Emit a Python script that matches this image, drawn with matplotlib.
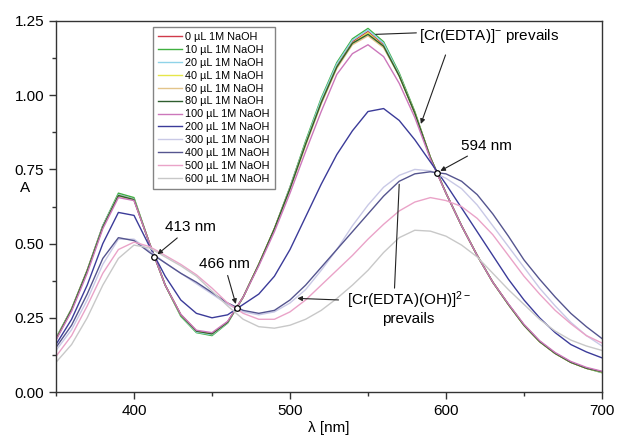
import matplotlib.pyplot as plt
import numpy as np
from matplotlib.ticker import MultipleLocator

plt.rcParams["font.family"] = ["Liberation Sans", "DejaVu Sans"]
plt.rcParams["mathtext.fontset"] = "custom"
plt.rcParams["mathtext.rm"] = "Liberation Sans"
plt.rcParams["mathtext.it"] = "Liberation Sans:italic"

# absorbance spectra, one reading every 10 nm
wavelength = np.arange(350, 701, 10)

a0 = [0.18, 0.28, 0.41, 0.56, 0.665, 0.65, 0.50, 0.36, 0.26, 0.205, 0.195, 0.235,
      0.32, 0.43, 0.55, 0.69, 0.84, 0.98, 1.10, 1.18, 1.215, 1.17, 1.07, 0.94,
      0.79, 0.67, 0.56, 0.46, 0.37, 0.295, 0.225, 0.17, 0.13, 0.10, 0.08, 0.067]
a10 = [0.182, 0.28, 0.41, 0.56, 0.67, 0.655, 0.50, 0.36, 0.255, 0.20, 0.19, 0.232,
       0.32, 0.43, 0.55, 0.69, 0.845, 0.99, 1.11, 1.19, 1.225, 1.18, 1.075, 0.945,
       0.79, 0.67, 0.56, 0.46, 0.37, 0.295, 0.225, 0.17, 0.13, 0.10, 0.08, 0.065]
a20 = [0.18, 0.28, 0.41, 0.56, 0.665, 0.65, 0.50, 0.36, 0.258, 0.202, 0.193, 0.233,
       0.32, 0.43, 0.55, 0.69, 0.84, 0.985, 1.105, 1.185, 1.22, 1.175, 1.07, 0.94,
       0.79, 0.67, 0.56, 0.46, 0.37, 0.295, 0.225, 0.17, 0.13, 0.10, 0.08, 0.066]
a40 = [0.178, 0.278, 0.408, 0.555, 0.662, 0.648, 0.50, 0.36, 0.26, 0.205, 0.196, 0.235,
       0.32, 0.43, 0.55, 0.685, 0.835, 0.975, 1.095, 1.175, 1.21, 1.165, 1.065, 0.94,
       0.79, 0.67, 0.56, 0.46, 0.37, 0.295, 0.225, 0.17, 0.13, 0.10, 0.08, 0.067]
a60 = [0.177, 0.277, 0.407, 0.555, 0.66, 0.647, 0.50, 0.36, 0.26, 0.206, 0.197, 0.236,
       0.32, 0.43, 0.548, 0.683, 0.83, 0.97, 1.09, 1.17, 1.20, 1.16, 1.065, 0.94,
       0.79, 0.67, 0.56, 0.46, 0.37, 0.295, 0.225, 0.17, 0.13, 0.10, 0.08, 0.068]
a80 = [0.178, 0.278, 0.408, 0.556, 0.662, 0.648, 0.50, 0.36, 0.26, 0.205, 0.196, 0.235,
       0.32, 0.43, 0.55, 0.685, 0.835, 0.975, 1.095, 1.175, 1.205, 1.165, 1.065, 0.94,
       0.79, 0.67, 0.56, 0.46, 0.37, 0.295, 0.225, 0.17, 0.13, 0.10, 0.08, 0.068]
a100 = [0.175, 0.272, 0.40, 0.55, 0.655, 0.645, 0.50, 0.36, 0.262, 0.208, 0.2, 0.238,
        0.32, 0.425, 0.54, 0.67, 0.81, 0.945, 1.07, 1.14, 1.17, 1.13, 1.04, 0.925,
        0.785, 0.67, 0.56, 0.46, 0.37, 0.297, 0.228, 0.173, 0.133, 0.103, 0.083, 0.07]
a200 = [0.16, 0.245, 0.36, 0.50, 0.605, 0.595, 0.49, 0.39, 0.31, 0.265, 0.25, 0.26,
        0.295, 0.33, 0.39, 0.48, 0.59, 0.70, 0.80, 0.88, 0.945, 0.955, 0.915, 0.85,
        0.775, 0.70, 0.62, 0.54, 0.46, 0.38, 0.31, 0.25, 0.20, 0.16, 0.135, 0.115]
a300 = [0.14, 0.21, 0.31, 0.43, 0.515, 0.515, 0.475, 0.435, 0.40, 0.365, 0.33, 0.295,
        0.27, 0.26, 0.27, 0.30, 0.345, 0.41, 0.48, 0.56, 0.63, 0.69, 0.73, 0.75,
        0.745, 0.72, 0.685, 0.63, 0.56, 0.49, 0.42, 0.35, 0.29, 0.235, 0.19, 0.155]
a400 = [0.15, 0.225, 0.33, 0.45, 0.52, 0.51, 0.47, 0.435, 0.40, 0.37, 0.335, 0.30,
        0.275, 0.265, 0.275, 0.31, 0.36, 0.42, 0.48, 0.54, 0.60, 0.66, 0.71, 0.735,
        0.742, 0.735, 0.71, 0.665, 0.60, 0.525, 0.445, 0.38, 0.32, 0.265, 0.22, 0.18]
a500 = [0.12, 0.19, 0.29, 0.40, 0.48, 0.505, 0.49, 0.46, 0.43, 0.395, 0.35, 0.30,
        0.265, 0.245, 0.245, 0.27, 0.31, 0.36, 0.41, 0.46, 0.515, 0.565, 0.61, 0.64,
        0.655, 0.645, 0.625, 0.585, 0.53, 0.46, 0.39, 0.33, 0.275, 0.23, 0.19, 0.165]
a600 = [0.10, 0.16, 0.25, 0.36, 0.45, 0.495, 0.485, 0.455, 0.425, 0.39, 0.34, 0.29,
        0.245, 0.22, 0.215, 0.225, 0.245, 0.275, 0.315, 0.36, 0.41, 0.47, 0.52, 0.545,
        0.542, 0.525, 0.495, 0.455, 0.40, 0.345, 0.295, 0.245, 0.205, 0.175, 0.155, 0.14]

volumes = [0, 10, 20, 40, 60, 80, 100, 200, 300, 400, 500, 600]
spectra = [a0, a10, a20, a40, a60, a80, a100, a200, a300, a400, a500, a600]
colors = ["#d03a4a", "#40b040", "#8fd3e8", "#e6e64a", "#e3c48a", "#2f5e2f",
          "#cc77bb", "#3b3b99", "#c9c9e6", "#55558f", "#eaa3c8", "#c8c8c8"]

# isosbestic points
iso_nm = [413, 466, 594]
iso_a = [0.455, 0.283, 0.738]

fig = plt.figure(figsize=(6.17, 4.37), dpi=100)
ax = fig.add_axes([56 / 617, 1 - 392 / 437, 546 / 617, 371 / 437])

for vol, spec, col in zip(volumes, spectra, colors):
    ax.plot(wavelength, spec, color=col, lw=1.0, label=f"{vol} µL 1M NaOH")

ax.plot(iso_nm, iso_a, "o", ms=4, mfc="white", mec="black", mew=0.9, zorder=5)

arrow = dict(arrowstyle="-|>", color="#222222", lw=0.8, mutation_scale=7,
             shrinkA=1, shrinkB=3)
line = dict(arrowstyle="-", color="#222222", lw=0.8, shrinkA=0, shrinkB=0)

ax.annotate("413 nm", xy=(iso_nm[0], iso_a[0]), xytext=(436, 0.555),
            ha="center", va="center", fontsize=11, arrowprops=arrow)
ax.annotate("466 nm", xy=(iso_nm[1], iso_a[1]), xytext=(458, 0.43),
            ha="center", va="center", fontsize=11, arrowprops=arrow)
ax.annotate("594 nm", xy=(iso_nm[2], iso_a[2]), xytext=(626, 0.83),
            ha="center", va="center", fontsize=11, arrowprops=arrow)

ax.text(583, 1.20, r"[Cr(EDTA)]$^{-}$ prevails", ha="left", va="center", fontsize=11)
ax.annotate("", xy=(555, 1.205), xytext=(581, 1.21), arrowprops=line)
ax.annotate("", xy=(583, 0.89), xytext=(600, 1.14), arrowprops=arrow)

ax.text(576, 0.285, "[Cr(EDTA)(OH)]$^{2-}$\nprevails", ha="center", va="center",
        fontsize=11, linespacing=1.1)
ax.annotate("", xy=(502, 0.316), xytext=(532, 0.31), arrowprops=arrow)
ax.annotate("", xy=(570, 0.70), xytext=(567, 0.35), arrowprops=line)

ax.set_xlim(350, 700)
ax.set_ylim(0, 1.25)
ax.xaxis.set_major_locator(MultipleLocator(100))
ax.xaxis.set_minor_locator(MultipleLocator(50))
ax.yaxis.set_major_locator(MultipleLocator(0.25))
ax.yaxis.set_minor_locator(MultipleLocator(0.125))
ax.yaxis.set_major_formatter(plt.FormatStrFormatter("%.2f"))
ax.tick_params(which="major", direction="out", length=5, width=1, labelsize=11,
               color="#333333")
ax.tick_params(which="minor", direction="out", length=3, width=1, color="#333333")
for sp in ax.spines.values():
    sp.set_color("#333333")
    sp.set_linewidth(1.0)

ax.set_xlabel("λ [nm]", fontsize=11, labelpad=2)
ax.set_ylabel("A", rotation=0, fontsize=11)
ax.yaxis.set_label_coords(-0.057, 0.53)

leg = ax.legend(loc="upper left", bbox_to_anchor=(0.178, 0.984), borderaxespad=0,
                fontsize=7.8, labelspacing=0.27, handlelength=2.2, handletextpad=0.3,
                borderpad=0.45, fancybox=False, frameon=True)
leg.get_frame().set_edgecolor("#666666")
leg.get_frame().set_linewidth(1.0)

fig.savefig("out.png", dpi=100)
